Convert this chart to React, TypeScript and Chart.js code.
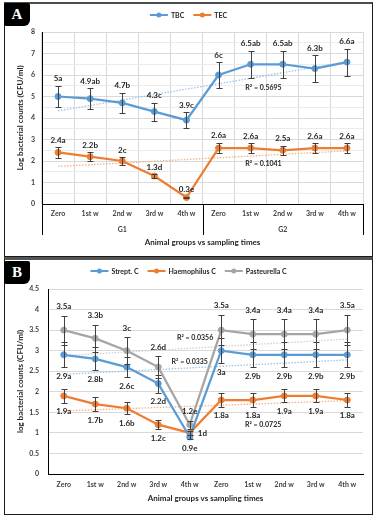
import React, { useEffect, useRef } from 'react';
import { Chart, registerables } from 'chart.js';
Chart.register(...registerables);

const FONT = 'Lato, "Open Sans", sans-serif';

// ---------- data ----------
const categories = ['Zero', '1st w', '2nd w', '3rd w', '4th w', 'Zero', '1st w', '2nd w', '3rd w', '4th w'];
const groupLabels = ['G1', 'G2'];
const xTitle = 'Animal groups vs sampling times';
const yTitleA = 'Log bacterial counts (CFU/ml)';
const yTitleB = 'log bacterial counts (CFU/ml)';

const tbcValues = [5, 4.9, 4.7, 4.3, 3.9, 6, 6.5, 6.5, 6.3, 6.6];
const tbcErrors = [0.5, 0.48, 0.47, 0.42, 0.38, 0.6, 0.63, 0.63, 0.63, 0.63];
const tbcLabels = ['5a', '4.9ab', '4.7b', '4.3c', '3.9c', '6c', '6.5ab', '6.5ab', '6.3b', '6.6a'];
const tecValues = [2.4, 2.2, 2, 1.3, 0.3, 2.6, 2.6, 2.5, 2.6, 2.6];
const tecErrors = [0.25, 0.2, 0.18, 0.08, 0.04, 0.25, 0.22, 0.22, 0.22, 0.22];
const tecLabels = ['2.4a', '2.2b', '2c', '1.3d', '0.3e', '2.6a', '2.6a', '2.5a', '2.6a', '2.6a'];

const streptValues = [2.9, 2.8, 2.6, 2.2, 0.9, 3, 2.9, 2.9, 2.9, 2.9];
const streptErrors = [0.3, 0.28, 0.25, 0.22, 0.06, 0.3, 0.3, 0.3, 0.3, 0.3];
const streptLabels = ['2.9a', '2.8b', '2.6c', '2.2d', '0.9e', '3a', '2.9b', '2.9b', '2.9b', '2.9b'];
const haemoValues = [1.9, 1.7, 1.6, 1.2, 1, 1.8, 1.8, 1.9, 1.9, 1.8];
const haemoErrors = [0.17, 0.17, 0.15, 0.11, 0.05, 0.16, 0.16, 0.16, 0.16, 0.16];
const haemoLabels = ['1.9a', '1.7b', '1.6b', '1.2c', '1d', '1.8a', '1.8a', '1.9a', '1.9a', '1.8a'];
const pastValues = [3.5, 3.3, 3, 2.6, 1.2, 3.5, 3.4, 3.4, 3.4, 3.5];
const pastErrors = [0.35, 0.33, 0.33, 0.26, 0.1, 0.37, 0.37, 0.37, 0.37, 0.37];
const pastLabels = ['3.5a', '3.3b', '3c', '2.6d', '1.2e', '3.5a', '3.4a', '3.4a', '3.4a', '3.5a'];

const r2TextA = ['R² = 0.5695', 'R² = 0.1041'];
const r2TextB = ['R² = 0.0356', 'R² = 0.0335', 'R² = 0.0725'];

// ---------- styling / annotation placement ----------
const BLUE = '#5B9BD5';
const ORANGE = '#ED7D31';
const GRAY = '#A5A5A5';

function linearFit(vals: number[]) {
  const n = vals.length;
  const mx = (n - 1) / 2;
  const my = vals.reduce((a, b) => a + b, 0) / n;
  let sxy = 0, sxx = 0;
  vals.forEach((v, i) => { sxy += (i - mx) * (v - my); sxx += (i - mx) * (i - mx); });
  const slope = sxy / sxx;
  return vals.map((_, i) => my + slope * (i - mx));
}

type Series = {
  name: string; values: number[]; errors: number[]; labels: string[];
  color: string; trendColor: string; sides: string[]; gap: number;
  r2: string; r2At: [number, number];
};

const sameSide = (s: string) => categories.map(() => s);

const seriesA: Series[] = [
  { name: 'TBC', values: tbcValues, errors: tbcErrors, labels: tbcLabels, color: BLUE, trendColor: '#9DC3E6', sides: sameSide('above'), gap: 7, r2: r2TextA[0], r2At: [6.4, 5.4] },
  { name: 'TEC', values: tecValues, errors: tecErrors, labels: tecLabels, color: ORANGE, trendColor: '#F4B183', sides: sameSide('above'), gap: 7, r2: r2TextA[1], r2At: [6.4, 1.86] },
];

const seriesB: Series[] = [
  { name: 'Strept. C', values: streptValues, errors: streptErrors, labels: streptLabels, color: BLUE, trendColor: '#9DC3E6', sides: sameSide('below'), gap: 9, r2: r2TextB[1], r2At: [4.0, 2.74] },
  { name: 'Haemophilus C', values: haemoValues, errors: haemoErrors, labels: haemoLabels, color: ORANGE, trendColor: '#F4B183', sides: categories.map((_, i) => (i === 4 ? 'right' : 'below')), gap: 9, r2: r2TextB[2], r2At: [6.33, 1.19] },
  { name: 'Pasteurella C', values: pastValues, errors: pastErrors, labels: pastLabels, color: GRAY, trendColor: '#CFCFCF', sides: sameSide('above'), gap: 9, r2: r2TextB[0], r2At: [4.17, 3.32] },
];

type PanelCfg = {
  series: Series[]; yMax: number; yStep: number; minorGrid: boolean; vGrid: boolean;
  yWidth: number; xHeight: number; padTop: number; padRight: number;
  legendY: number; yTitle: string; xTitleY: number; groups: boolean; xPad: number; yPad: number;
};

const cfgA: PanelCfg = {
  series: seriesA, yMax: 8, yStep: 0.5, minorGrid: true, vGrid: true,
  yWidth: 37, xHeight: 52, padTop: 28, padRight: 9, legendY: 11, yTitle: yTitleA, xTitleY: 238, groups: true, xPad: 6, yPad: 7,
};
const cfgB: PanelCfg = {
  series: seriesB, yMax: 4.5, yStep: 0.5, minorGrid: false, vGrid: false,
  yWidth: 43, xHeight: 39, padTop: 29, padRight: 9, legendY: 11, yTitle: yTitleB, xTitleY: 238, groups: false, xPad: 7, yPad: 9,
};

function makeOverlay(cfg: PanelCfg) {
  return {
    id: 'overlay',
    afterDatasetsDraw(chart: any) {
      const ctx = chart.ctx;
      const xs = chart.scales.x;
      const ys = chart.scales.y;
      ctx.save();
      // error bars
      ctx.strokeStyle = '#404040';
      ctx.lineWidth = 1;
      cfg.series.forEach((s) => {
        s.values.forEach((v, i) => {
          const px = Math.round(xs.getPixelForValue(i)) + 0.5;
          const t = Math.round(ys.getPixelForValue(v + s.errors[i])) + 0.5;
          const b = Math.round(ys.getPixelForValue(v - s.errors[i])) + 0.5;
          ctx.beginPath();
          ctx.moveTo(px, t); ctx.lineTo(px, b);
          ctx.moveTo(px - 3, t); ctx.lineTo(px + 3, t);
          ctx.moveTo(px - 3, b); ctx.lineTo(px + 3, b);
          ctx.stroke();
        });
      });
      // data labels
      ctx.fillStyle = '#262626';
      ctx.font = `bold 8px ${FONT}`;
      ctx.textBaseline = 'middle';
      cfg.series.forEach((s) => {
        s.values.forEach((v, i) => {
          const px = xs.getPixelForValue(i);
          const side = s.sides[i];
          if (side === 'right') {
            ctx.textAlign = 'left';
            ctx.fillText(s.labels[i], px + 8, ys.getPixelForValue(v) + 1);
          } else if (side === 'below') {
            ctx.textAlign = 'center';
            ctx.fillText(s.labels[i], px, ys.getPixelForValue(v - s.errors[i]) + s.gap);
          } else {
            ctx.textAlign = 'center';
            ctx.fillText(s.labels[i], px, ys.getPixelForValue(v + s.errors[i]) - s.gap);
          }
        });
      });
      // R² labels
      ctx.font = `bold 7px ${FONT}`;
      ctx.textAlign = 'center';
      cfg.series.forEach((s) => {
        const [ix, val] = s.r2At;
        const p0 = xs.getPixelForValue(0);
        const p1 = xs.getPixelForValue(1);
        ctx.fillText(s.r2, p0 + (p1 - p0) * ix, ys.getPixelForValue(val));
      });
      ctx.restore();
    },
    afterDraw(chart: any) {
      const ctx = chart.ctx;
      const area = chart.chartArea;
      const xs = chart.scales.x;
      ctx.save();
      ctx.fillStyle = '#262626';
      // legend
      ctx.font = `bold 7px ${FONT}`;
      ctx.textBaseline = 'middle';
      ctx.textAlign = 'left';
      const lineLen = 18, gapTxt = 3, gapItem = 9;
      const widths = cfg.series.map((s) => lineLen + gapTxt + ctx.measureText(s.name).width);
      const total = widths.reduce((a, b) => a + b, 0) + gapItem * (widths.length - 1);
      let lx = chart.width / 2 - total / 2;
      const ly = cfg.legendY;
      cfg.series.forEach((s, k) => {
        ctx.strokeStyle = s.color;
        ctx.lineWidth = 2;
        ctx.beginPath(); ctx.moveTo(lx, ly); ctx.lineTo(lx + lineLen, ly); ctx.stroke();
        ctx.fillStyle = s.color;
        ctx.beginPath(); ctx.arc(lx + lineLen / 2, ly, 2.5, 0, Math.PI * 2); ctx.fill();
        ctx.fillStyle = '#262626';
        ctx.fillText(s.name, lx + lineLen + gapTxt, ly + 0.5);
        lx += widths[k] + gapItem;
      });
      // y title
      ctx.font = `bold 8px ${FONT}`;
      ctx.textAlign = 'center';
      ctx.save();
      ctx.translate(15, (area.top + area.bottom) / 2);
      ctx.rotate(-Math.PI / 2);
      ctx.fillText(cfg.yTitle, 0, 0);
      ctx.restore();
      // x title
      ctx.fillText(xTitle, (area.left + area.right) / 2, cfg.xTitleY);
      // groups
      if (cfg.groups) {
        const mid = (xs.getPixelForValue(4) + xs.getPixelForValue(5)) / 2;
        ctx.strokeStyle = '#000';
        ctx.lineWidth = 1;
        [area.left, mid, area.right].forEach((gx) => {
          const x = Math.round(gx) + 0.5;
          ctx.beginPath(); ctx.moveTo(x, area.bottom); ctx.lineTo(x, area.bottom + 31); ctx.stroke();
        });
        ctx.font = `bold 7px ${FONT}`;
        ctx.fillStyle = '#404040';
        ctx.fillText(groupLabels[0], xs.getPixelForValue(2), area.bottom + 26);
        ctx.fillText(groupLabels[1], xs.getPixelForValue(7), area.bottom + 26);
      }
      ctx.restore();
    },
  };
}

function buildChart(canvas: HTMLCanvasElement, cfg: PanelCfg) {
  const datasets: any[] = [];
  cfg.series.forEach((s) => {
    datasets.push({
      label: s.name, data: s.values, borderColor: s.color, backgroundColor: s.color,
      borderWidth: 2.25, pointRadius: 3, pointBorderWidth: 1, pointBackgroundColor: s.color,
      pointBorderColor: s.color, tension: 0,
    });
  });
  cfg.series.forEach((s) => {
    datasets.push({
      label: '', data: linearFit(s.values), borderColor: s.trendColor, borderWidth: 1.3,
      borderDash: [1.5, 1.5], pointRadius: 0, tension: 0,
    });
  });
  return new Chart(canvas, {
    type: 'line',
    data: { labels: categories, datasets },
    options: {
      responsive: false,
      animation: false,
      events: [],
      layout: { padding: { top: cfg.padTop, right: cfg.padRight, left: 0, bottom: 0 } },
      plugins: { legend: { display: false }, tooltip: { enabled: false } },
      scales: {
        x: {
          type: 'category',
          offset: true,
          grid: { display: cfg.vGrid, offset: true, color: '#D9D9D9', drawTicks: false },
          border: { display: true, color: '#000', width: 1 },
          ticks: { font: { family: FONT, size: 7, weight: 'bold' }, color: '#404040', padding: cfg.xPad, maxRotation: 0, autoSkip: false },
          afterFit: (s: any) => { s.height = cfg.xHeight; },
        },
        y: {
          min: 0, max: cfg.yMax,
          grid: {
            drawTicks: false,
            color: (c: any) => (cfg.minorGrid && c.tick && !Number.isInteger(c.tick.value) ? '#EBEBEB' : '#D9D9D9'),
          },
          border: { display: true, color: '#000', width: 1 },
          ticks: {
            stepSize: cfg.yStep, autoSkip: false, padding: cfg.yPad, color: '#404040',
            font: { family: FONT, size: 7, weight: 'bold' },
            callback: (v: any) => (cfg.minorGrid && !Number.isInteger(v) ? '' : String(v)),
          },
          afterFit: (s: any) => { s.width = cfg.yWidth; },
        },
      },
    },
    plugins: [makeOverlay(cfg)],
  } as any);
}

function Panel({ cfg, left, top, width, height }: { cfg: PanelCfg; left: number; top: number; width: number; height: number }) {
  const ref = useRef<HTMLCanvasElement>(null);
  useEffect(() => {
    if (!ref.current) return;
    const ch = buildChart(ref.current, cfg);
    return () => ch.destroy();
  }, []);
  return (
    <canvas ref={ref} width={width} height={height}
      style={{ position: 'absolute', left, top, width, height }} />
  );
}

const tagStyle = (top: number): React.CSSProperties => ({
  position: 'absolute', left: 4, top, width: 26, height: 23, background: '#000', color: '#fff',
  fontFamily: '"Liberation Serif", serif', fontWeight: 'bold', fontSize: 15, lineHeight: '23px',
  textAlign: 'center', borderRadius: '2px 2px 6px 2px',
});

export default function App() {
  return (
    <div style={{ position: 'absolute', left: 0, top: 0, width: 381, height: 525, background: '#fff' }}>
      <div style={{ position: 'absolute', left: 4, top: 2, width: 369, height: 255, boxSizing: 'border-box', border: '1px solid #1a1a1a', borderTop: '2px solid #4d4d4d' }} />
      <div style={{ position: 'absolute', left: 4, top: 257, width: 369, height: 258, boxSizing: 'border-box', border: '1px solid #1a1a1a', borderTop: '3px solid #555' }} />
      <Panel cfg={cfgA} left={5} top={4} width={367} height={252} />
      <Panel cfg={cfgB} left={5} top={260} width={367} height={253} />
      <div style={tagStyle(3)}>A</div>
      <div style={tagStyle(261)}>B</div>
    </div>
  );
}
